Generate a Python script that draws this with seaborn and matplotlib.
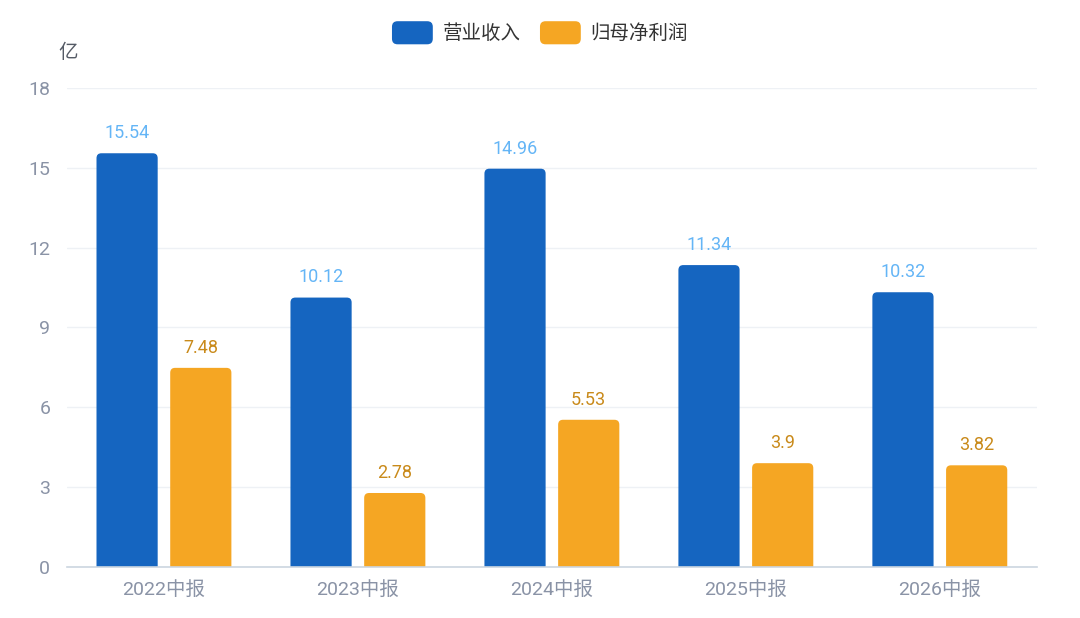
import pandas as pd
import matplotlib
matplotlib.use("Agg")
import matplotlib.pyplot as plt
import seaborn as sns
from matplotlib.patches import FancyBboxPatch, Patch
from matplotlib.legend_handler import HandlerPatch

periods = ["2022中报", "2023中报", "2024中报", "2025中报", "2026中报"]
revenue = [15.54, 10.12, 14.96, 11.34, 10.32]
profit = [7.48, 2.78, 5.53, 3.9, 3.82]
series_names = ["营业收入", "归母净利润"]
label_texts_rev = ["15.54", "10.12", "14.96", "11.34", "10.32"]
label_texts_pro = ["7.48", "2.78", "5.53", "3.9", "3.82"]

bar_colors = ["#1565C0", "#F5A623"]
label_colors = ["#64B5F6", "#C98A1A"]

df = pd.DataFrame({
    "period": periods * 2,
    "value": revenue + profit,
    "series": [series_names[0]] * 5 + [series_names[1]] * 5,
})

sns.set_theme(style="white")
plt.rcParams["font.family"] = ["Roboto", "Noto Sans CJK SC", "DejaVu Sans"]

fig = plt.figure(figsize=(10.8, 6.18), dpi=100)
ax = fig.add_axes([0.062, 0.0825, 0.898, 0.7755])

sns.barplot(data=df, x="period", y="value", hue="series", palette=bar_colors,
            width=0.76, gap=0.17, ax=ax, legend=False, saturation=1)

ax.set_ylim(0, 18)
ax.set_yticks([0, 3, 6, 9, 12, 15, 18])
ax.set_xlim(-0.5, 4.5)
ax.grid(axis="y", color="#EEF1F5", linewidth=1)
ax.set_axisbelow(True)
for s in ["top", "right", "left"]:
    ax.spines[s].set_visible(False)
ax.spines["bottom"].set_color("#CCD6E0")
ax.spines["bottom"].set_linewidth(1.2)
ax.spines["bottom"].set_zorder(3)
ax.tick_params(axis="both", length=0, labelsize=14, colors="#8A93A6")
ax.tick_params(axis="y", pad=12)
ax.tick_params(axis="x", pad=10)
ax.set_xlabel("")
ax.set_ylabel("")

# round top corners of bars (bottom corners extend below 0 and get clipped)
rx = 0.025
aspect = 7.4
for p in list(ax.patches):
    x, y = p.get_x(), p.get_y()
    w, h = p.get_width(), p.get_height()
    c = p.get_facecolor()
    p.set_visible(False)
    if h <= 0:
        continue
    y0 = -1.0
    ax.add_patch(FancyBboxPatch((x + rx, y0 + rx * aspect), w - 2 * rx, h - y0 - 2 * rx * aspect,
                                boxstyle=f"round,pad={rx}", mutation_aspect=aspect,
                                facecolor=c, edgecolor="none", zorder=2))

# value labels
for i in range(len(periods)):
    for j, (vals, texts) in enumerate([(revenue, label_texts_rev), (profit, label_texts_pro)]):
        xc = i + (-0.19 if j == 0 else 0.19)
        ax.annotate(texts[i], (xc, vals[i]), xytext=(0, 8), textcoords="offset points",
                    ha="center", va="bottom", fontsize=13, color=label_colors[j])

fig.text(0.063, 0.914, "亿", fontsize=14, color="#555B66", ha="center", va="center")


class RoundHandler(HandlerPatch):
    def create_artists(self, legend, orig_handle, xdescent, ydescent, width, height, fontsize, trans):
        r = FancyBboxPatch((-xdescent, -ydescent), width, height,
                           boxstyle="round,pad=0,rounding_size=4",
                           facecolor=orig_handle.get_facecolor(), edgecolor="none",
                           transform=trans)
        return [r]


handles = [Patch(facecolor=bar_colors[0]), Patch(facecolor=bar_colors[1])]
fig.legend(handles, series_names, loc="center", bbox_to_anchor=(0.5, 0.947), ncol=2,
           frameon=False, fontsize=14, handlelength=2.1, handleheight=1.45,
           handletextpad=0.5, columnspacing=1.0, labelcolor="#333333",
           handler_map={Patch: RoundHandler()})

fig.savefig("out.png", dpi=100)
